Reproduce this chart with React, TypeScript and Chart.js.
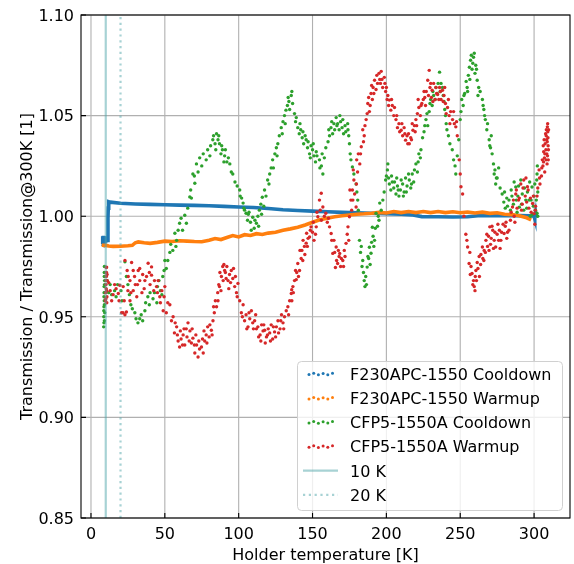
import React, { useEffect, useRef } from "react";
import { Chart, registerables } from "chart.js";

Chart.register(...registerables);

// ---------- DATA ----------
const X_TICKS = [0, 50, 100, 150, 200, 250, 300];
const Y_TICKS = [0.85, 0.9, 0.95, 1.0, 1.05, 1.1];
const X_MIN = -6.757;
const X_MAX = 324.32;
const Y_MIN = 0.85;
const Y_MAX = 1.1;
const MARKER_T = [10, 20];

const SERIES_LABELS = [
  "F230APC-1550 Cooldown",
  "F230APC-1550 Warmup",
  "CFP5-1550A Cooldown",
  "CFP5-1550A Warmup",
  "10 K",
  "20 K",
];

const f230Cooldown: [number, number][] = [
  [7.6, 0.9862], [7.8, 0.9900], [8.1, 0.9860], [8.4, 0.9902], [8.7, 0.9862], [9.0, 0.9900], [9.3, 0.9864],
  [9.6, 0.9898], [9.9, 0.9866], [10.2, 0.9898], [10.5, 0.9870], [10.8, 0.9895], [11.1, 0.9880], [11.5, 0.9990],
  [11.7, 1.0040], [12.0, 1.0072], [13, 1.0070], [20, 1.0064],
  [30, 1.0061], [40, 1.0059], [50, 1.0057], [60, 1.0055], [70, 1.0054], [80, 1.0052], [90, 1.0049],
  [100, 1.0046], [110, 1.0043], [120, 1.0038], [130, 1.0032], [140, 1.0028], [150, 1.0025], [160, 1.0022],
  [170, 1.0019], [180, 1.0017], [190, 1.0015], [200, 1.0013], [210, 1.0010], [218, 1.0006], [224, 0.9998],
  [235, 0.9997], [245, 0.9996], [255, 0.9997], [262, 1.0002], [270, 1.0002], [280, 1.0002], [290, 1.0003],
  [297, 1.0002], [300, 1.0000], [300.3, 1.0015], [300.6, 0.9988], [301, 1.0012], [301.3, 0.9992],
];

const f230Warmup: [number, number][] = [
  [7.3, 0.9856], [10, 0.9855], [12, 0.9852], [15, 0.9850], [20, 0.9851], [25, 0.9853], [28, 0.9855],
  [30, 0.9868], [32, 0.9872], [36, 0.9868], [40, 0.9865], [45, 0.9870], [50, 0.9876], [55, 0.9874],
  [60, 0.9878], [65, 0.9876], [70, 0.9874], [75, 0.9873], [80, 0.9880], [84, 0.9889], [88, 0.9884],
  [92, 0.9894], [96, 0.9904], [100, 0.9897], [104, 0.9908], [108, 0.9904], [112, 0.9913], [116, 0.9909],
  [120, 0.9916], [125, 0.9920], [130, 0.9930], [135, 0.9937], [140, 0.9945], [145, 0.9956], [150, 0.9970],
  [155, 0.9982], [160, 0.9990], [165, 0.9997], [170, 1.0002], [175, 1.0006], [180, 1.0010], [185, 1.0012],
  [190, 1.0015], [195, 1.0019], [200, 1.0016], [205, 1.0023], [210, 1.0018], [215, 1.0023], [220, 1.0018],
  [225, 1.0023], [230, 1.0018], [235, 1.0023], [240, 1.0018], [245, 1.0022], [250, 1.0017], [255, 1.0021],
  [260, 1.0016], [265, 1.0020], [270, 1.0014], [275, 1.0017], [280, 1.0010], [285, 1.0008], [290, 1.0002],
  [295, 0.9992], [298, 0.9982],
];

const cfp5Cooldown: [number, number][] = [
  [8.6, 0.945], [8.7, 0.950], [8.8, 0.955], [8.8, 0.960], [8.9, 0.965], [9.0, 0.970], [9.1, 0.975],
  [9.2, 0.962], [9.3, 0.952], [9.0, 0.958], [9.1, 0.948], [9.2, 0.968], [8.7, 0.953], [8.9, 0.962],
  [9.0, 0.972], [8.8, 0.947], [9.1, 0.956], [9.2, 0.966],
  [11, 0.968], [12, 0.962], [13, 0.966], [14, 0.961], [16, 0.963], [17, 0.960], [18, 0.966], [20.3, 0.963],
  [21, 0.958], [23, 0.9773], [24, 0.970], [25, 0.966], [26, 0.961], [27, 0.956], [28, 0.954], [29.7, 0.952],
  [30.5, 0.949], [31.8, 0.947], [33, 0.949], [34, 0.951], [35, 0.948], [36.5, 0.953], [37, 0.957],
  [38.5, 0.960], [39.5, 0.956], [40, 0.962], [42, 0.959], [43, 0.962], [44.6, 0.957], [45, 0.965],
  [46, 0.968], [47, 0.963], [48, 0.961], [48.6, 0.970], [49.5, 0.973], [50, 0.978], [51, 0.974], [52, 0.978],
  [53.4, 0.982], [54, 0.986], [55.4, 0.983], [56.8, 0.9915], [57.5, 0.985], [58, 0.988], [59, 0.993],
  [60, 0.9965], [61, 0.999], [62, 0.993], [63.5, 1.0005], [64.6, 0.9965], [65.5, 1.004], [66.9, 1.0096],
  [67.5, 1.013], [68, 1.009], [69, 1.021], [70, 1.020], [70.3, 1.0164], [71.4, 1.026], [72.5, 1.022],
  [73.6, 1.029], [75, 1.025], [76, 1.031], [78, 1.028], [79, 1.033], [80.5, 1.030], [81, 1.035],
  [82.5, 1.038], [83, 1.040], [84, 1.036], [84.5, 1.033], [85, 1.041], [86, 1.038], [86.5, 1.040],
  [87, 1.036], [88, 1.031], [88.5, 1.035], [89, 1.033], [90, 1.027], [90.5, 1.030], [91, 1.033],
  [92, 1.027], [93, 1.029], [94, 1.026], [95, 1.022], [96, 1.021], [97.5, 1.017], [99, 1.015],
  [100.7, 1.013], [101, 1.010], [102, 1.009], [103, 1.0065], [103.5, 1.004], [104, 1.003], [105, 1.0015],
  [106, 0.998], [106.5, 1.001], [107, 1.002], [108, 0.997], [108.5, 0.993], [109.5, 0.9995], [110.5, 0.994],
  [111, 0.998], [112, 0.9965], [113, 1.000], [113.5, 0.995], [114, 1.003], [115, 1.006], [115.5, 1.001],
  [116, 1.0094], [117, 1.005], [117.5, 1.013], [118.5, 1.010], [119.6, 1.018], [120.5, 1.016], [121, 1.021],
  [122, 1.024], [123, 1.028], [123.5, 1.024], [124.5, 1.031], [125.5, 1.034], [126, 1.030], [126.5, 1.036],
  [127.5, 1.040], [128.8, 1.044], [129.5, 1.041], [130, 1.047], [131, 1.050], [131.5, 1.046], [132, 1.0527],
  [133, 1.055], [133.5, 1.059], [134, 1.057], [134.5, 1.053], [135.6, 1.060], [136, 1.062], [136.5, 1.056],
  [137.8, 1.051], [138.5, 1.047], [139, 1.049], [140, 1.044], [141, 1.041], [141.5, 1.046], [142, 1.043],
  [143, 1.039], [143.5, 1.042], [144, 1.036], [145, 1.040], [145.7, 1.038], [146.6, 1.034], [147, 1.037],
  [148, 1.031], [148.5, 1.029], [149, 1.035], [150, 1.033], [150.5, 1.036], [151, 1.030], [152, 1.027],
  [152.5, 1.032], [153, 1.030], [154.7, 1.028], [155, 1.024], [156, 1.025], [156.5, 1.031], [157, 1.021],
  [158, 1.029], [159, 1.034], [160.5, 1.037], [161, 1.043], [161.5, 1.040], [162.5, 1.044], [163, 1.047],
  [163.6, 1.041], [164.5, 1.046], [165, 1.043], [166, 1.049], [166.5, 1.045], [167, 1.046], [168, 1.043],
  [168.5, 1.050], [169, 1.047], [170, 1.044], [170.5, 1.048], [171, 1.041], [172, 1.045], [172.5, 1.042],
  [173.8, 1.046], [174, 1.043], [174.5, 1.040], [175, 1.036], [175.5, 1.031], [176, 1.028], [177, 1.0245],
  [178, 1.021], [179.5, 1.016], [180, 1.012], [180.6, 1.008], [181, 1.003], [181.8, 0.988], [182.5, 0.982],
  [183, 0.985], [183.5, 0.975], [184, 0.978], [184.5, 0.972], [185, 0.968], [185.5, 0.965], [186, 0.970],
  [186.5, 0.966], [187, 0.9747], [187.5, 0.980], [188, 0.979], [188.5, 0.9846], [189, 0.976], [189.6, 0.9816],
  [190, 0.987], [190.5, 0.9945], [191, 0.990], [191.5, 0.985], [192, 0.988], [192.5, 0.994], [193, 1.0015],
  [194, 0.995], [194.5, 1.000], [195, 0.998], [195.5, 1.0065], [196.5, 1.003], [197.6, 1.008], [198.5, 1.012],
  [199.5, 1.018], [200, 1.020], [200.7, 1.023], [201, 1.026], [201.5, 1.019], [202, 1.016], [203, 1.013],
  [203.5, 1.020], [204, 1.017], [205, 1.014], [205.5, 1.017], [206.5, 1.011], [207, 1.019], [207.5, 1.015],
  [208, 1.013], [208.5, 1.010], [209.5, 1.013], [210, 1.018], [211, 1.016], [211.5, 1.010], [212, 1.012],
  [213, 1.019], [213.5, 1.012], [214, 1.015], [215, 1.021], [215.5, 1.018], [216.5, 1.014], [217, 1.016],
  [217.5, 1.021], [218.5, 1.017], [219, 1.023], [220, 1.026], [221, 1.022], [221.5, 1.027], [222, 1.031],
  [223, 1.029], [223.4, 1.033], [224.5, 1.039], [225.5, 1.042], [226, 1.045], [226.8, 1.048], [227.5, 1.051],
  [228, 1.045], [229, 1.052], [229.5, 1.056], [230, 1.058], [231, 1.055], [231.5, 1.062], [232, 1.060],
  [233, 1.058], [233.6, 1.064], [234.5, 1.061], [235, 1.066], [236, 1.0716], [236.5, 1.062], [237, 1.066],
  [238, 1.064], [238.5, 1.060], [239, 1.057], [239.5, 1.053], [240, 1.050], [240.5, 1.046], [241, 1.043],
  [242, 1.040], [243, 1.036], [244.6, 1.033], [245.5, 1.028], [246.5, 1.025], [247, 1.021], [248, 1.030],
  [249, 1.038], [250, 1.048], [250.5, 1.052], [251, 1.058], [252, 1.055], [252.5, 1.060], [253, 1.061],
  [254, 1.067], [254.7, 1.064], [255, 1.062], [255.5, 1.070], [256.2, 1.074], [256.5, 1.068], [257, 1.0775],
  [257.5, 1.080], [258, 1.073], [258.5, 1.076], [259, 1.079], [259.5, 1.081], [260, 1.071], [260.5, 1.075],
  [261, 1.073], [261.5, 1.0676], [262, 1.060], [262.5, 1.064], [263.5, 1.062], [265, 1.058], [265.5, 1.055],
  [266, 1.053], [266.5, 1.050], [267, 1.048], [268, 1.043], [268.5, 1.046], [269.6, 1.038], [270, 1.035],
  [270.5, 1.034], [271, 1.040], [271.6, 1.031], [272.5, 1.026], [273, 1.021], [273.5, 1.023], [274, 1.016],
  [274.5, 1.019], [275, 1.019], [276, 1.024], [277, 1.014], [278.4, 1.011], [279.5, 1.007], [280, 1.012],
  [280.5, 1.004], [281.5, 1.009], [282, 1.005], [283, 1.008], [284, 1.003], [284.5, 1.013], [285, 1.010],
  [286, 1.006], [286.5, 1.017], [287.6, 1.0145], [288, 1.008], [288.5, 1.002], [289, 1.010], [289.5, 1.015],
  [290, 1.0045], [291, 1.018], [291.5, 1.006], [292, 1.011], [293, 1.003], [293.5, 1.014], [294.4, 1.008],
  [295, 1.004], [295.5, 1.012], [296.6, 1.008], [297, 1.017], [297.5, 1.000], [298, 1.008], [298.6, 1.0145],
  [299, 1.001], [299.5, 1.005], [300, 1.010], [300.5, 1.016], [301, 1.003], [301.5, 1.008], [301.8, 1.018],
  [302, 1.021], [302, 1.0015], [302.2, 1.025], [302.5, 1.012], [302.5, 1.000],
];

const cfp5Warmup: [number, number][] = [
  [9.8, 0.958], [10, 0.962], [10.2, 0.966], [10.4, 0.970], [10.6, 0.9747], [10.8, 0.960], [11, 0.968],
  [10.5, 0.972], [10.3, 0.964], [10.7, 0.957], [10.1, 0.959], [10.9, 0.971], [10.4, 0.9745], [10.6, 0.963],
  [10.2, 0.968],
  [12, 0.967], [13, 0.963], [14, 0.958], [15, 0.961], [16, 0.966], [17, 0.964], [18.5, 0.9616], [19, 0.958],
  [19.5, 0.9657], [20.7, 0.952], [21.7, 0.952], [21.8, 0.965], [22.5, 0.958], [23, 0.951], [23, 0.978],
  [24, 0.9524], [24.5, 0.973], [25, 0.963], [25.2, 0.970], [26.4, 0.958], [26.4, 0.968], [27, 0.962],
  [27.5, 0.977], [28.6, 0.973], [28.6, 0.963], [29.5, 0.970], [30, 0.966], [31, 0.960], [31.5, 0.966],
  [32, 0.973], [33, 0.968], [33, 0.974], [34.5, 0.962], [35, 0.971], [36, 0.964], [36.5, 0.968],
  [37.6, 0.970], [38.7, 0.9766], [39.5, 0.972], [40, 0.966], [41, 0.9748], [41, 0.9707], [42.5, 0.963],
  [43, 0.968], [44.4, 0.965], [45, 0.962], [45.5, 0.968], [46.6, 0.960], [47, 0.957], [48, 0.963],
  [48.9, 0.953], [49.5, 0.960], [50, 0.965], [51, 0.952], [52, 0.957], [53.4, 0.956], [54.5, 0.948],
  [55.6, 0.950], [56.5, 0.942], [57, 0.947], [58, 0.945], [58.5, 0.941], [59, 0.938], [60, 0.935],
  [60.5, 0.943], [61, 0.939], [62, 0.936], [62.4, 0.941], [63, 0.944], [63.5, 0.936], [64.5, 0.944],
  [65, 0.940], [65.7, 0.947], [66.5, 0.938], [67, 0.943], [68, 0.937], [68.5, 0.944], [69, 0.9394],
  [70, 0.936], [70.3, 0.932], [71, 0.941], [71.5, 0.936], [72.5, 0.930], [73, 0.938], [73.5, 0.934],
  [74.8, 0.935], [75.5, 0.939], [76, 0.932], [76.5, 0.943], [77, 0.938], [78, 0.941], [78.5, 0.937],
  [79, 0.945], [80, 0.940], [80.5, 0.946], [81.5, 0.9433], [82, 0.941], [82.6, 0.948], [83, 0.955],
  [83.5, 0.952], [84.2, 0.958], [85, 0.955], [85.8, 0.962], [86, 0.958], [86.5, 0.966], [87, 0.965],
  [87.3, 0.972], [88, 0.963], [88.3, 0.970], [89.2, 0.975], [89.5, 0.968], [90, 0.976], [90.5, 0.973],
  [91, 0.972], [91.5, 0.969], [92, 0.975], [92.8, 0.968], [93.3, 0.964], [93.8, 0.971], [94.5, 0.967],
  [95, 0.973], [96, 0.969], [96.5, 0.974], [97.3, 0.965], [97.8, 0.970], [98.5, 0.962], [99, 0.960],
  [99.5, 0.9666], [100.7, 0.958], [101.8, 0.952], [102.5, 0.950], [103, 0.956], [104, 0.948], [105, 0.951],
  [105.5, 0.944], [106.3, 0.945], [107, 0.952], [107.5, 0.949], [108.6, 0.953], [109.5, 0.947], [110, 0.944],
  [110.8, 0.948], [111.5, 0.951], [112, 0.944], [113, 0.945], [113.5, 0.940], [114.5, 0.941], [115, 0.938],
  [115.5, 0.946], [116.5, 0.943], [117, 0.946], [117.6, 0.9433], [118, 0.937], [118.8, 0.940], [119.5, 0.941],
  [120, 0.944], [121, 0.942], [121.5, 0.938], [122, 0.946], [123, 0.939], [123.5, 0.945], [124.3, 0.9425],
  [125, 0.940], [125.5, 0.945], [126.6, 0.948], [127, 0.942], [128, 0.944], [128.5, 0.948], [129, 0.951],
  [130, 0.947], [130.5, 0.944], [131, 0.950], [132.2, 0.953], [133.3, 0.955], [133.8, 0.951], [134.5, 0.958],
  [135.6, 0.9616], [135.9, 0.9635], [136, 0.958], [136.7, 0.965], [137, 0.962], [137.8, 0.968], [138.5, 0.973],
  [139, 0.9685], [139.3, 0.972], [140, 0.9765], [140.5, 0.970], [141.2, 0.973], [141.5, 0.983], [142.3, 0.979],
  [142.8, 0.983], [143.4, 0.978], [143.6, 0.988], [144.5, 0.985], [144.8, 0.981], [145.7, 0.9866], [146, 0.9915],
  [146.5, 0.985], [147, 0.989], [148, 0.9897], [148.5, 0.993], [149, 0.9947], [150, 0.992], [150.5, 0.997],
  [151, 0.988], [152, 0.991], [152.5, 0.9947], [153, 1.002], [153.6, 0.9997], [154.7, 1.008], [155.2, 1.003],
  [155.9, 1.0114], [156, 0.998], [157, 1.0046], [158, 1.000], [159, 1.0015], [160, 0.997], [160.8, 0.999],
  [161.5, 0.9947], [162.6, 0.9914], [163, 0.988], [163.7, 0.9815], [164.5, 0.988], [165, 0.982], [165.5, 0.9745],
  [166, 0.9847], [166.3, 0.978], [167, 0.9765], [167.5, 0.983], [168, 0.980], [168.4, 0.9815], [169, 0.975],
  [169.5, 0.979], [170.5, 0.978], [171, 0.975], [171.5, 0.983], [172, 0.980], [172.7, 0.9865], [173.5, 0.991],
  [174, 0.9947], [174.5, 0.988], [175, 0.9997], [175.3, 1.013], [176, 1.008], [176.5, 1.003], [177, 1.013],
  [177.3, 1.008], [177.6, 1.023], [178, 1.018], [178.5, 1.011], [179.5, 1.0046], [179.7, 1.016], [179.9, 1.028],
  [180.5, 1.022], [181, 1.031], [182, 1.026], [182.5, 1.031], [183, 1.0345], [184, 1.043], [184.5, 1.037],
  [185, 1.040], [185.5, 1.045], [186.3, 1.048], [187, 1.051], [187.4, 1.056], [188, 1.059], [188.5, 1.052],
  [189, 1.055], [189.6, 1.061], [190, 1.065], [190.5, 1.058], [191, 1.064], [191.5, 1.061], [192, 1.0676],
  [193, 1.063], [193.5, 1.070], [194, 1.066], [195, 1.071], [195.5, 1.068], [196, 1.066], [196.5, 1.072],
  [197, 1.068], [197.5, 1.064], [198.6, 1.069], [199, 1.066], [199.5, 1.062], [200, 1.064], [200.5, 1.058],
  [201, 1.060], [201.5, 1.055], [202, 1.0577], [203, 1.0527], [203.5, 1.058], [204, 1.055], [205, 1.050],
  [205.5, 1.054], [206.5, 1.048], [207, 1.050], [207.5, 1.044], [208.5, 1.046], [209, 1.042], [210, 1.0427],
  [210.5, 1.046], [211, 1.040], [212, 1.044], [212.5, 1.041], [213, 1.0378], [214, 1.040], [214.5, 1.036],
  [215, 1.041], [215.5, 1.036], [216.5, 1.039], [217, 1.038], [217.5, 1.046], [218, 1.0427], [219, 1.045],
  [219.5, 1.042], [220, 1.048], [220.5, 1.045], [221, 1.051], [221.5, 1.058], [222, 1.054], [223, 1.050],
  [223.5, 1.055], [224, 1.056], [225, 1.058], [225.5, 1.062], [226, 1.059], [226.5, 1.055], [227, 1.062],
  [228, 1.0676], [228.5, 1.060], [229, 1.0725], [229.5, 1.064], [230, 1.066], [230.5, 1.059], [231, 1.0626],
  [231.5, 1.057], [232, 1.066], [233, 1.058], [233.5, 1.064], [234, 1.061], [234.7, 1.0605], [235.5, 1.058],
  [236, 1.064], [236.5, 1.062], [237, 1.058], [238, 1.0626], [238.5, 1.057], [239, 1.060], [239.5, 1.064],
  [240, 1.056], [240.5, 1.051], [241.4, 1.054], [242, 1.058], [242.5, 1.050], [243, 1.046], [243.5, 1.052],
  [244.8, 1.048], [245.5, 1.052], [246, 1.046], [247, 1.0444], [247.5, 1.047], [248, 1.040], [249.3, 1.028],
  [250, 1.021], [250.5, 1.0146], [251.6, 1.011], [252.5, 1.000], [253.8, 0.991], [254.5, 0.988], [255, 0.9847],
  [256, 0.9765], [256.5, 0.982], [256.8, 0.971], [257.3, 0.975], [258, 0.9715], [258.5, 0.966], [259, 0.968],
  [259.5, 0.965], [260, 0.963], [260.2, 0.970], [260.6, 0.973], [261, 0.968], [261.5, 0.977], [262, 0.974],
  [262.8, 0.980], [263, 0.970], [263.8, 0.976], [264, 0.981], [265, 0.9847], [265.3, 0.979], [266, 0.978],
  [266.2, 0.983], [267, 0.982], [267.4, 0.988], [268, 0.991], [268.5, 0.985], [269.2, 0.990], [269.5, 0.983],
  [270, 0.9947], [270.5, 0.986], [271, 0.989], [271.5, 0.995], [272, 0.993], [272.5, 0.984], [273, 0.988],
  [273.5, 0.992], [274, 0.9847], [275, 0.991], [275.5, 0.996], [276, 0.988], [276.5, 0.993], [277, 0.984],
  [277.5, 0.988], [278, 0.992], [279, 0.996], [279.7, 0.9914], [280.5, 0.995], [281, 0.997], [281.5, 0.989],
  [282, 0.992], [283, 0.993], [284, 0.998], [284.5, 1.002], [285.4, 1.0046], [286, 1.008], [286.5, 1.000],
  [287, 0.997], [287.6, 1.011], [288, 1.013], [288.5, 1.004], [289.5, 1.008], [290, 1.009], [291, 1.016],
  [291.5, 1.003], [292, 1.006], [292.5, 1.014], [293, 1.018], [294, 1.010], [294.5, 1.019], [295, 1.007],
  [295.5, 1.0146], [296, 1.013], [296.5, 1.004], [297.5, 1.009], [298, 1.002], [299, 1.0063], [299.5, 1.010],
  [300, 1.0013], [300.5, 0.996], [300.8, 1.003], [301, 1.005], [302, 1.010], [302.5, 1.014], [303.4, 1.023],
  [303.7, 1.019], [304, 1.016], [305, 1.020], [305.2, 1.024], [305.6, 1.028], [306, 1.025], [306.2, 1.035],
  [306.4, 1.027], [306.5, 1.032], [306.8, 1.038], [307, 1.029], [307.2, 1.022], [307.3, 1.031], [307.5, 1.036],
  [307.8, 1.041], [308, 1.033], [308.1, 1.028], [308.2, 1.040], [308.3, 1.043], [308.5, 1.038], [308.6, 1.031],
  [308.8, 1.026], [308.9, 1.037], [309, 1.0444], [309.1, 1.030], [309.2, 1.046], [309.3, 1.042], [309.4, 1.039],
  [309.5, 1.035], [309.6, 1.028], [309.7, 1.033], [309.8, 1.043],
];

// ---------- STYLE ----------
const COLORS = ["#1f77b4", "#ff7f0e", "#2ca02c", "#d62728"];
const VLINE_COLOR = "rgba(80,165,170,0.5)";
const FONT = '16px "DejaVu Sans"';

const toPts = (arr: [number, number][]) => arr.map(([x, y]) => ({ x, y }));

const overlayPlugin = {
  id: "overlay",
  beforeDatasetsDraw(chart: any) {
    const { ctx, chartArea: a, scales } = chart;
    ctx.save();
    ctx.strokeStyle = "#b0b0b0";
    ctx.lineWidth = 1.1;
    for (const v of X_TICKS) {
      const px = scales.x.getPixelForValue(v);
      ctx.beginPath();
      ctx.moveTo(px, a.top);
      ctx.lineTo(px, a.bottom);
      ctx.stroke();
    }
    for (const v of Y_TICKS) {
      const py = scales.y.getPixelForValue(v);
      ctx.beginPath();
      ctx.moveTo(a.left, py);
      ctx.lineTo(a.right, py);
      ctx.stroke();
    }
    ctx.restore();
  },
  afterDatasetsDraw(chart: any) {
    const { ctx, chartArea: a, scales } = chart;
    ctx.save();
    ctx.strokeStyle = "#000";
    ctx.lineWidth = 1.1;
    ctx.strokeRect(a.left, a.top, a.right - a.left, a.bottom - a.top);
    ctx.beginPath();
    for (const v of X_TICKS) {
      const px = scales.x.getPixelForValue(v);
      ctx.moveTo(px, a.bottom);
      ctx.lineTo(px, a.bottom - 5);
    }
    for (const v of Y_TICKS) {
      const py = scales.y.getPixelForValue(v);
      ctx.moveTo(a.left, py);
      ctx.lineTo(a.left + 5, py);
    }
    ctx.stroke();
    ctx.fillStyle = "#000";
    ctx.font = FONT;
    ctx.textBaseline = "alphabetic";
    ctx.textAlign = "center";
    for (const v of X_TICKS) {
      const px = scales.x.getPixelForValue(v);
      ctx.fillText(String(v), px, a.bottom + 20.5);
    }
    ctx.textAlign = "right";
    for (const v of Y_TICKS) {
      const py = scales.y.getPixelForValue(v);
      ctx.fillText(v.toFixed(2), a.left - 7, py + 5.8);
    }
    ctx.textAlign = "center";
    ctx.fillText("Holder temperature [K]", (a.left + a.right) / 2, 559.5);
    ctx.save();
    ctx.translate(31.5, (a.top + a.bottom) / 2);
    ctx.rotate(-Math.PI / 2);
    ctx.fillText("Transmission / Transmission@300K [1]", 0, 0);
    ctx.restore();

    // legend
    const L = 297.5, T = 361.5, R = 562.5, B = 510.5, r = 4;
    ctx.beginPath();
    ctx.moveTo(L + r, T);
    ctx.lineTo(R - r, T);
    ctx.arcTo(R, T, R, T + r, r);
    ctx.lineTo(R, B - r);
    ctx.arcTo(R, B, R - r, B, r);
    ctx.lineTo(L + r, B);
    ctx.arcTo(L, B, L, B - r, r);
    ctx.lineTo(L, T + r);
    ctx.arcTo(L, T, L + r, T, r);
    ctx.closePath();
    ctx.fillStyle = "rgba(255,255,255,0.8)";
    ctx.fill();
    ctx.strokeStyle = "#d0d0d0";
    ctx.lineWidth = 1;
    ctx.stroke();

    const rowY = [374, 398.3, 422.4, 446.6, 470.7, 494.8];
    const offs = [0.6, -0.8, 0.8, -0.6, 0.7, -0.8];
    for (let i = 0; i < 4; i++) {
      ctx.fillStyle = COLORS[i];
      for (let k = 0; k < 6; k++) {
        ctx.beginPath();
        ctx.arc(309 + k * 4.7, rowY[i] + offs[k], 1.5, 0, Math.PI * 2);
        ctx.fill();
      }
    }
    ctx.strokeStyle = VLINE_COLOR;
    ctx.lineWidth = 2.2;
    ctx.beginPath();
    ctx.moveTo(303, rowY[4]);
    ctx.lineTo(338, rowY[4]);
    ctx.stroke();
    ctx.setLineDash([2.2, 3.6]);
    ctx.beginPath();
    ctx.moveTo(303, rowY[5]);
    ctx.lineTo(338, rowY[5]);
    ctx.stroke();
    ctx.setLineDash([]);

    ctx.fillStyle = "#000";
    ctx.textAlign = "left";
    for (let i = 0; i < 6; i++) {
      ctx.fillText(SERIES_LABELS[i], 350, rowY[i] + 5.8);
    }
    ctx.restore();
  },
};

export default function App() {
  const ref = useRef<HTMLCanvasElement | null>(null);
  useEffect(() => {
    document.body.style.margin = "0";
    const canvas = ref.current;
    if (!canvas) return;
    const chart = new Chart(canvas, {
      type: "scatter",
      data: {
        datasets: [
          {
            label: SERIES_LABELS[0],
            data: toPts(f230Cooldown),
            showLine: true,
            borderColor: COLORS[0],
            backgroundColor: COLORS[0],
            borderWidth: 3.6,
            pointRadius: 0,
            order: 6,
          },
          {
            label: SERIES_LABELS[1],
            data: toPts(f230Warmup),
            showLine: true,
            borderColor: COLORS[1],
            backgroundColor: COLORS[1],
            borderWidth: 3.6,
            pointRadius: 0,
            order: 5,
          },
          {
            label: SERIES_LABELS[2],
            data: toPts(cfp5Cooldown),
            backgroundColor: COLORS[2],
            borderWidth: 0,
            pointRadius: 1.7,
            order: 4,
          },
          {
            label: SERIES_LABELS[3],
            data: toPts(cfp5Warmup),
            backgroundColor: COLORS[3],
            borderWidth: 0,
            pointRadius: 1.7,
            order: 3,
          },
          {
            label: SERIES_LABELS[4],
            data: [
              { x: MARKER_T[0], y: Y_MIN },
              { x: MARKER_T[0], y: Y_MAX },
            ],
            showLine: true,
            borderColor: VLINE_COLOR,
            borderWidth: 2.2,
            pointRadius: 0,
            order: 2,
          },
          {
            label: SERIES_LABELS[5],
            data: [
              { x: MARKER_T[1], y: Y_MIN },
              { x: MARKER_T[1], y: Y_MAX },
            ],
            showLine: true,
            borderColor: VLINE_COLOR,
            borderWidth: 2.2,
            borderDash: [2.2, 3.6],
            pointRadius: 0,
            order: 1,
          },
        ],
      },
      options: {
        animation: false,
        responsive: false,
        devicePixelRatio: 1,
        layout: { padding: { left: 81, right: 3, top: 15, bottom: 46 } },
        plugins: { legend: { display: false }, tooltip: { enabled: false } },
        scales: {
          x: { type: "linear", min: X_MIN, max: X_MAX, display: false },
          y: { type: "linear", min: Y_MIN, max: Y_MAX, display: false },
        },
      },
      plugins: [overlayPlugin],
    } as any);
    return () => chart.destroy();
  }, []);
  return <canvas ref={ref} width={574} height={564} style={{ display: "block" }} />;
}
